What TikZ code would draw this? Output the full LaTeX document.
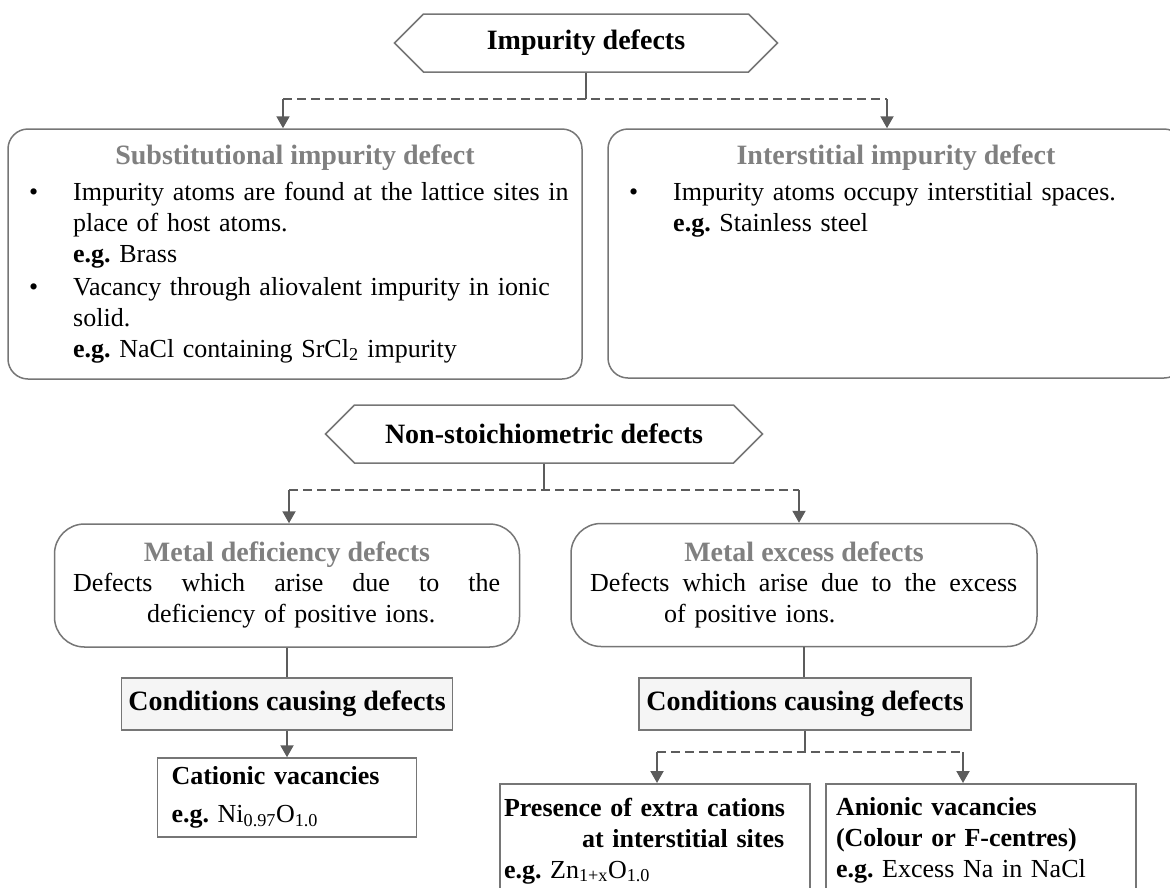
\documentclass[tikz,border=0pt]{standalone}
\usepackage{fontspec}
\setmainfont{Liberation Serif}
\usepackage{tikz}
\usetikzlibrary{shapes,arrows.meta,positioning,calc}

\definecolor{framegray}{RGB}{118,118,118}
\definecolor{linkgray}{RGB}{92,92,92}
\definecolor{headgray}{RGB}{128,128,128}
\definecolor{condfill}{RGB}{245,245,245}

\newcommand{\chartfont}{\fontsize{26}{31}\selectfont}
\newcommand{\headfont}{\fontsize{28}{31}\selectfont\bfseries}
\hyphenpenalty=10000
\frenchspacing

\tikzset{
  hexbox/.style={signal, signal to=west and east, draw=framegray, line width=1.5pt,
    fill=white, inner sep=0pt, minimum height=58pt, font=\headfont},
  roundbox/.style={draw=framegray, line width=1.5pt, rounded corners=#1, fill=white},
  roundbox/.default=20pt,
  condbox/.style={draw=framegray, line width=1.5pt, fill=condfill, minimum height=52pt,
    inner sep=0pt, font=\headfont},
  examplebox/.style={draw=framegray, line width=1.5pt, fill=white, font=\chartfont},
  boxhead/.style={font=\headfont, text=headgray, inner sep=0pt},
  boxtext/.style={font=\chartfont, inner sep=0pt},
  link/.style={draw=linkgray, line width=2pt},
  downarrow/.style={-{Triangle[length=12pt,width=13pt]}},
  dashed/.style={dash pattern=on 9pt off 5pt}
}

\begin{document}
\begin{tikzpicture}[x=1pt, y=-1pt]
\useasboundingbox (0,0) rectangle (1170,887);

% impurity defects
\node[hexbox, minimum width=383pt] (impurity) at (586,43) {Impurity defects};
\node[roundbox, minimum width=574pt, minimum height=250pt] (subst) at (295,254) {};
\node[roundbox, minimum width=576pt, minimum height=249pt] (interst) at (896,253.5) {};
\coordinate (impleft) at (283,99);
\coordinate (impright) at (887,99);

\draw[link] (impurity.south) -- (impurity.south |- impleft);
\draw[link, dashed] (impleft) -- (impright);
\draw[link, downarrow] (impleft) -- (impleft |- subst.north);
\draw[link, downarrow] (impright) -- (impright |- interst.north);

\node[boxhead, anchor=base] (substhead) at (295,164) {Substitutional impurity defect};
\node[boxtext, text width=558pt, anchor=base west] (substlist) at (14,200) {%
  \leftskip=59pt
  \noindent\llap{\textbullet\hspace{35pt}}Impurity atoms are found at the lattice sites in place of host atoms.\\
  \textbf{e.g.} Brass\par
  \vspace{2pt}
  \noindent\llap{\textbullet\hspace{35pt}}Vacancy through aliovalent impurity in ionic solid.\\
  \textbf{e.g.} NaCl containing SrCl\textsubscript{2} impurity\par};

\node[boxhead, anchor=base] (intersthead) at (896,164) {Interstitial impurity defect};
\node[boxtext, text width=558pt, anchor=base west] (interstlist) at (614,200) {%
  \leftskip=59pt
  \noindent\llap{\textbullet\hspace{35pt}}Impurity atoms occupy interstitial spaces.\\
  \textbf{e.g.} Stainless steel\par};

% non-stoichiometric defects
\node[hexbox, minimum width=437pt] (nonstoich) at (544,434) {Non-stoichiometric defects};
\node[roundbox=30pt, minimum width=465pt, minimum height=123pt] (deficiency) at (287,585.5) {};
\node[roundbox=30pt, minimum width=466pt, minimum height=123pt] (excess) at (804,585) {};
\coordinate (nsleft) at (289,490);
\coordinate (nsright) at (799,490);

\draw[link] (nonstoich.south) -- (nonstoich.south |- nsleft);
\draw[link, dashed] (nsleft) -- (nsright);
\draw[link, downarrow] (nsleft) -- (nsleft |- deficiency.north);
\draw[link, downarrow] (nsright) -- (nsright |- excess.north);

\node[boxhead, anchor=base] (deficiencyhead) at (287,561) {Metal deficiency defects};
\node[boxtext, text width=427pt, anchor=base west] (deficiencybody) at (73,591) {%
  \hbox to 427pt{Defects\hfill which\hfill arise\hfill due\hfill to\hfill the}\\
  \hspace*{74pt}deficiency of positive ions.};

\node[boxhead, anchor=base] (excesshead) at (804,561) {Metal excess defects};
\node[boxtext, text width=427pt, anchor=base west] (excessbody) at (590,591) {%
  \hbox to 427pt{Defects\hfill which\hfill arise\hfill due\hfill to\hfill the\hfill excess}\\
  \hspace*{74pt}of positive ions.};

% conditions
\node[condbox, minimum width=331pt] (condleft) at (287,704) {Conditions causing defects};
\node[condbox, minimum width=332pt] (condright) at (805,704) {Conditions causing defects};
\draw[link] (deficiency.south) -- (deficiency.south |- condleft.north);
\draw[link] (excess.south) -- (excess.south |- condright.north);

\node[examplebox, text width=231pt, inner xsep=14pt, inner ysep=0pt, minimum height=79pt]
  (cation) at (287,797.5)
  {\textbf{Cationic vacancies}\\[7pt]\textbf{e.g.} Ni\textsubscript{0.97}O\textsubscript{1.0}};
\draw[link, downarrow] (condleft.south) -- (condleft.south |- cation.north);

\coordinate (exleft) at (657,752);
\coordinate (exright) at (963,752);
\node[examplebox, text width=302pt, inner xsep=4pt, inner ysep=14pt, anchor=north]
  (extracat) at (655,783)
  {\textbf{Presence of extra cations}\\
   \hspace*{78pt}\textbf{at interstitial sites}\\
   \textbf{e.g.} Zn\textsubscript{1+x}O\textsubscript{1.0}};
\node[examplebox, text width=290pt, inner xsep=10pt, inner ysep=14pt, anchor=north]
  (anion) at (981,783)
  {\textbf{Anionic vacancies}\\
   \textbf{(Colour or F-centres)}\\
   \textbf{e.g.} Excess Na in NaCl};

\draw[link] (condright.south) -- (condright.south |- exleft);
\draw[link, dashed] (exleft) -- (exright);
\draw[link, downarrow] (exleft) -- (exleft |- extracat.north);
\draw[link, downarrow] (exright) -- (exright |- anion.north);
\end{tikzpicture}
\end{document}
